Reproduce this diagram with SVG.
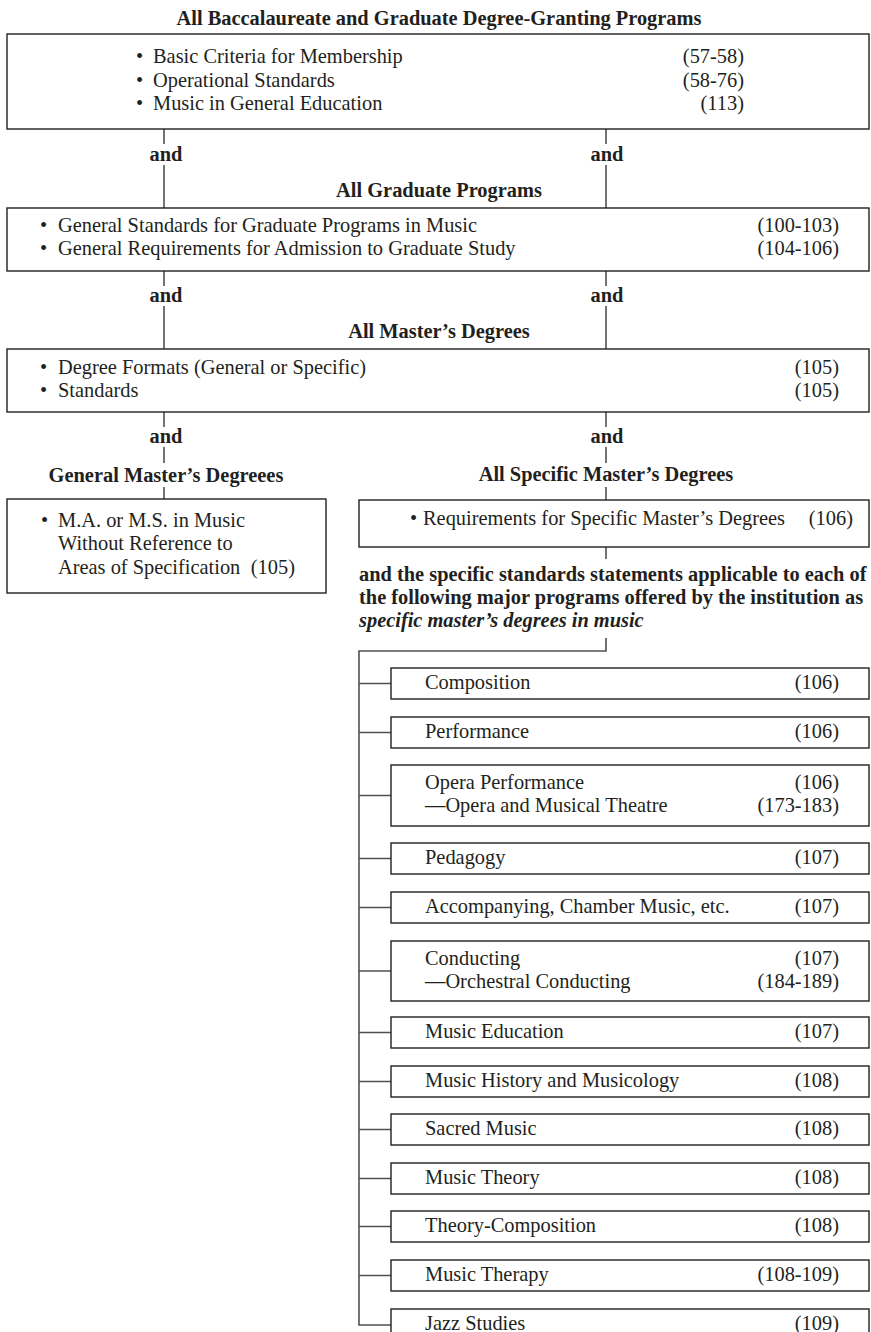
<svg xmlns="http://www.w3.org/2000/svg" width="871" height="1332" viewBox="0 0 871 1332">
<style>
.t{font-family:"Liberation Serif","Times New Roman",serif;font-size:20.4px;fill:#231f20}
.b{font-weight:bold}
.i{font-style:italic}
.e{text-anchor:end}
.m{text-anchor:middle}
.box{fill:#fff;stroke:#231f20;stroke-width:1.4}
.ln{fill:none;stroke:#3a3a3a;stroke-width:1.4}
.br{fill:none;stroke:#505050;stroke-width:1.6}
</style>
<rect width="871" height="1332" fill="#fff"/>
<g id="connectors">
<path class="ln" d="M164 129V144M164 165V208M164 271V286M164 306V349M164 412V427M164 447V463M164 487V499"/>
<path class="ln" d="M606 129V144M606 165V208M606 271V286M606 306V349M606 412V427M606 447V463M606 487V500M606 547V559"/>
<path class="br" d="M606 638V651H359V1325H391"/>
<path class="br" d="M359 683.5H391M359 732.5H391M359 795.5H391M359 858.5H391M359 907.5H391M359 971H391M359 1032.5H391M359 1081.5H391M359 1129.5H391M359 1178.5H391M359 1226.5H391M359 1275.5H391"/>
</g>
<g id="labels">
<text class="t b m" x="166" y="161">and</text>
<text class="t b m" x="607" y="161">and</text>
<text class="t b m" x="166" y="302">and</text>
<text class="t b m" x="607" y="302">and</text>
<text class="t b m" x="166" y="443">and</text>
<text class="t b m" x="607" y="443">and</text>
</g>
<g id="all-programs">
<text class="t b m" x="439" y="25">All Baccalaureate and Graduate Degree-Granting Programs</text>
<rect class="box" x="7" y="34" width="862" height="95"/>
<text class="t" x="136" y="63">•</text><text class="t" x="153" y="63">Basic Criteria for Membership</text><text class="t e" x="744" y="63">(57-58)</text>
<text class="t" x="136" y="87">•</text><text class="t" x="153" y="87">Operational Standards</text><text class="t e" x="744" y="87">(58-76)</text>
<text class="t" x="136" y="110">•</text><text class="t" x="153" y="110">Music in General Education</text><text class="t e" x="744" y="110">(113)</text>
</g>
<g id="graduate">
<text class="t b m" x="439" y="197">All Graduate Programs</text>
<rect class="box" x="7" y="208" width="862" height="63"/>
<text class="t" x="40" y="232">•</text><text class="t" x="58" y="232">General Standards for Graduate Programs in Music</text><text class="t e" x="839" y="232">(100-103)</text>
<text class="t" x="40" y="255">•</text><text class="t" x="58" y="255">General Requirements for Admission to Graduate Study</text><text class="t e" x="839" y="255">(104-106)</text>
</g>
<g id="masters">
<text class="t b m" x="439" y="338">All Master’s Degrees</text>
<rect class="box" x="7" y="349" width="862" height="63"/>
<text class="t" x="40" y="374">•</text><text class="t" x="58" y="374">Degree Formats (General or Specific)</text><text class="t e" x="839" y="374">(105)</text>
<text class="t" x="40" y="397">•</text><text class="t" x="58" y="397">Standards</text><text class="t e" x="839" y="397">(105)</text>
</g>
<g id="general-masters">
<text class="t b m" x="166" y="482">General Master’s Degreees</text>
<rect class="box" x="7" y="499" width="319" height="94"/>
<text class="t" x="41" y="527">•</text><text class="t" x="58" y="527">M.A. or M.S. in Music</text>
<text class="t" x="58" y="550">Without Reference to</text>
<text class="t" x="58" y="574">Areas of Specification</text><text class="t e" x="295" y="574">(105)</text>
</g>
<g id="specific-masters">
<text class="t b m" x="606" y="481">All Specific Master’s Degrees</text>
<rect class="box" x="359" y="500" width="510" height="47"/>
<text class="t" x="410" y="525">•</text><text class="t" x="423" y="525">Requirements for Specific Master’s Degrees</text><text class="t e" x="853" y="525">(106)</text>
<text class="t b" x="359" y="581">and the specific standards statements applicable to each of</text>
<text class="t b" x="359" y="604">the following major programs offered by the institution as</text>
<text class="t b i" x="359" y="627">specific master’s degrees in music</text>
</g>
<g id="composition"><rect class="box" x="391" y="668" width="478" height="31"/><text class="t" x="425" y="689">Composition</text><text class="t e" x="839" y="689">(106)</text></g>
<g id="performance"><rect class="box" x="391" y="717" width="478" height="31"/><text class="t" x="425" y="738">Performance</text><text class="t e" x="839" y="738">(106)</text></g>
<g id="opera"><rect class="box" x="391" y="765" width="478" height="61"/><text class="t" x="425" y="789">Opera Performance</text><text class="t e" x="839" y="789">(106)</text><text class="t" x="425" y="812">—Opera and Musical Theatre</text><text class="t e" x="839" y="812">(173-183)</text></g>
<g id="pedagogy"><rect class="box" x="391" y="843" width="478" height="31"/><text class="t" x="425" y="864">Pedagogy</text><text class="t e" x="839" y="864">(107)</text></g>
<g id="accompanying"><rect class="box" x="391" y="892" width="478" height="31"/><text class="t" x="425" y="913">Accompanying, Chamber Music, etc.</text><text class="t e" x="839" y="913">(107)</text></g>
<g id="conducting"><rect class="box" x="391" y="941" width="478" height="60"/><text class="t" x="425" y="965">Conducting</text><text class="t e" x="839" y="965">(107)</text><text class="t" x="425" y="988">—Orchestral Conducting</text><text class="t e" x="839" y="988">(184-189)</text></g>
<g id="music-education"><rect class="box" x="391" y="1017" width="478" height="31"/><text class="t" x="425" y="1038">Music Education</text><text class="t e" x="839" y="1038">(107)</text></g>
<g id="music-history"><rect class="box" x="391" y="1066" width="478" height="31"/><text class="t" x="425" y="1087">Music History and Musicology</text><text class="t e" x="839" y="1087">(108)</text></g>
<g id="sacred-music"><rect class="box" x="391" y="1114" width="478" height="31"/><text class="t" x="425" y="1135">Sacred Music</text><text class="t e" x="839" y="1135">(108)</text></g>
<g id="music-theory"><rect class="box" x="391" y="1163" width="478" height="31"/><text class="t" x="425" y="1184">Music Theory</text><text class="t e" x="839" y="1184">(108)</text></g>
<g id="theory-composition"><rect class="box" x="391" y="1211" width="478" height="31"/><text class="t" x="425" y="1232">Theory-Composition</text><text class="t e" x="839" y="1232">(108)</text></g>
<g id="music-therapy"><rect class="box" x="391" y="1260" width="478" height="31"/><text class="t" x="425" y="1281">Music Therapy</text><text class="t e" x="839" y="1281">(108-109)</text></g>
<g id="jazz-studies"><rect class="box" x="391" y="1309" width="478" height="31"/><text class="t" x="425" y="1330">Jazz Studies</text><text class="t e" x="839" y="1330">(109)</text></g>
</svg>
